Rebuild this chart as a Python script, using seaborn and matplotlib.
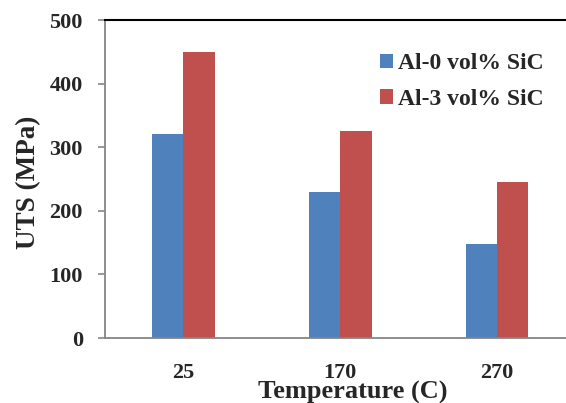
import numpy as np
import pandas as pd
import matplotlib
matplotlib.use("Agg")
import matplotlib.pyplot as plt
import seaborn as sns

sns.set_style("white")
plt.rcParams["font.family"] = ["Liberation Serif", "DejaVu Serif"]
plt.rcParams["font.weight"] = "bold"

# data
temperatures = ["25", "170", "270"]
uts_al0 = [320, 230, 148]
uts_al3 = [450, 325, 246]
series = ["Al-0 vol% SiC", "Al-3 vol% SiC"]
colors = ["#4F81BD", "#C0504D"]

df = pd.DataFrame({
    "Temperature": temperatures * 2,
    "UTS": uts_al0 + uts_al3,
    "Alloy": [series[0]] * 3 + [series[1]] * 3,
})

fig = plt.figure(figsize=(5.66, 4.03), dpi=100)
ax = fig.add_axes([105 / 566, 65 / 403, 461 / 566, 318 / 403])

sns.barplot(data=df, x="Temperature", y="UTS", hue="Alloy", order=temperatures,
            hue_order=series, palette=colors, width=0.4, gap=0,
            saturation=1, edgecolor="none", ax=ax)

ax.set_xlim(-0.5, 2.44)
ax.set_ylim(0, 500)
ax.set_yticks(np.arange(0, 501, 100))

for s in ["left", "bottom"]:
    ax.spines[s].set_color("#868686")
    ax.spines[s].set_linewidth(1.3)
ax.spines["top"].set_color("black")
ax.spines["top"].set_linewidth(1.5)
ax.spines["right"].set_visible(False)

ax.tick_params(axis="y", direction="out", length=5, width=1.2, color="#868686",
               pad=11, labelsize=16, left=True)
ax.tick_params(axis="x", length=0, pad=18, labelsize=16)
for lab in ax.get_xticklabels() + ax.get_yticklabels():
    lab.set_fontweight("bold")

ax.set_ylabel("UTS (MPa)", fontsize=19.5, fontweight="bold")
ax.yaxis.set_label_coords(-0.139, 0.49)
ax.set_xlabel("Temperature (C)", fontsize=19, fontweight="bold")
ax.xaxis.set_label_coords(0.537, -0.135)

handles, labels = ax.get_legend_handles_labels()
ax.legend(handles, labels, loc="upper left", bbox_to_anchor=(380 / 566, 1 - 53 / 403),
          bbox_transform=fig.transFigure, frameon=False,
          prop={"size": 17, "weight": "bold"}, handlelength=0.55, handleheight=0.55,
          handletextpad=0.2, labelspacing=0.63, borderaxespad=0, borderpad=0)

fig.savefig("out.png", dpi=100)
